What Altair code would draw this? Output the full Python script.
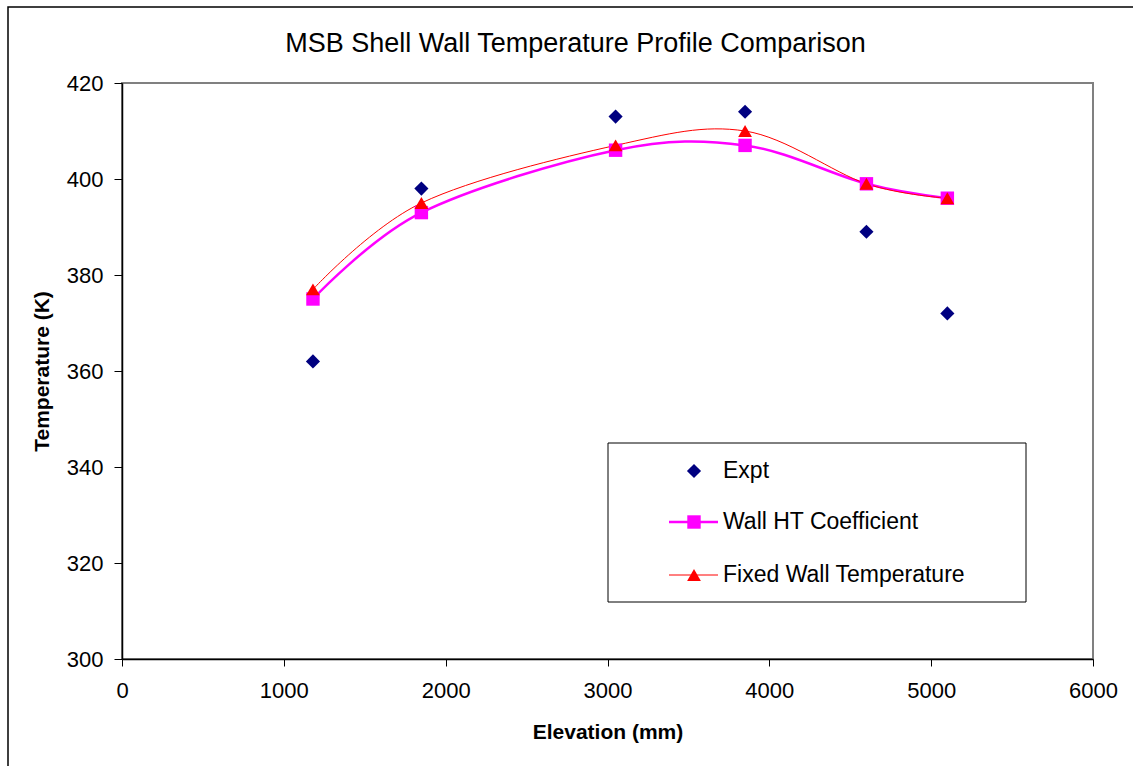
import altair as alt
import pandas as pd

# ---- data ----
elevation = [1180, 1850, 3050, 3850, 4600, 5100]
expt = [362, 398, 413, 414, 389, 372]
wall_ht = [375, 393, 406, 407, 399, 396]
fixed_wall = [377, 395, 407, 410, 399, 396]

x_ticks = [0, 1000, 2000, 3000, 4000, 5000, 6000]
y_ticks = [300, 320, 340, 360, 380, 400, 420]

legend_labels = ["Expt", "Wall HT Coefficient", "Fixed Wall Temperature"]

FONT = "Liberation Sans"
NAVY = "#000080"
MAGENTA = "#FF00FF"
RED = "#FF0000"

W, H = 971, 576
PAD = {"left": 122, "top": 83, "right": 40, "bottom": 107}

df_expt = pd.DataFrame({"x": elevation, "y": expt})
df_wall = pd.DataFrame({"x": elevation, "y": wall_ht})
df_fixed = pd.DataFrame({"x": elevation, "y": fixed_wall})

xscale = alt.Scale(domain=[0, 6000], nice=False, zero=False)
yscale = alt.Scale(domain=[300, 420], nice=False, zero=False)

x_axis = alt.Axis(
    values=x_ticks, format="d", title="Elevation (mm)", grid=False, tickSize=7,
    labelPadding=14, labelFontSize=22, labelFont=FONT, labelColor="black",
    labelFlush=False, labelOverlap=False,
    titleFont=FONT, titleFontSize=21, titleFontWeight="bold", titleColor="black",
    titlePadding=20, domainColor="black", tickColor="black", domainWidth=1.5,
)
y_axis = alt.Axis(
    values=y_ticks, format="d", title="Temperature (K)", grid=False, tickSize=8,
    labelPadding=11, labelFontSize=22, labelFont=FONT, labelColor="black",
    labelOverlap=False,
    titleFont=FONT, titleFontSize=21, titleFontWeight="bold", titleColor="black",
    titlePadding=14, domainColor="black", tickColor="black", domainWidth=1.5,
)

X = alt.X("x:Q", scale=xscale, axis=x_axis)
Y = alt.Y("y:Q", scale=yscale, axis=y_axis)

one = pd.DataFrame({"a": [0]})

# outer chart border (left & top edges visible in reference)
border = alt.Chart(one).mark_rect(fill=None, stroke="black", strokeWidth=1.5).encode(
    x=alt.value(-114), x2=alt.value(1030), y=alt.value(-76), y2=alt.value(700)
)

wall_line = alt.Chart(df_wall).mark_line(
    color=MAGENTA, strokeWidth=2.5, interpolate="cardinal"
).encode(x=X, y=Y)
wall_pts = alt.Chart(df_wall).mark_point(
    shape="square", filled=True, color=MAGENTA, size=180, opacity=1
).encode(x=X, y=Y)

fixed_line = alt.Chart(df_fixed).mark_line(
    color=RED, strokeWidth=1, interpolate="cardinal"
).encode(x=X, y=Y)
fixed_pts = alt.Chart(df_fixed).mark_point(
    shape="triangle-up", filled=True, color=RED, size=190, opacity=1
).encode(x=X, y=Y)

expt_pts = alt.Chart(df_expt).mark_point(
    shape="diamond", filled=True, color=NAVY, size=200, opacity=1
).encode(x=X, y=Y)

# ---- manual legend box (pixel positions relative to plot area) ----
LX0, LX1, LY0, LY1 = 486, 904, 360, 519
leg_box = alt.Chart(one).mark_rect(fill="white", stroke="black", strokeWidth=1).encode(
    x=alt.value(LX0), x2=alt.value(LX1), y=alt.value(LY0), y2=alt.value(LY1)
)
row_y = [388, 439, 492]
sym_x = 572
text_x = 601

leg_layers = [leg_box]
leg_layers.append(alt.Chart(one).mark_point(
    shape="diamond", filled=True, color=NAVY, size=200, opacity=1
).encode(x=alt.value(sym_x), y=alt.value(row_y[0])))
leg_layers.append(alt.Chart(one).mark_rule(color=MAGENTA, strokeWidth=2.5).encode(
    x=alt.value(547), x2=alt.value(596), y=alt.value(row_y[1])))
leg_layers.append(alt.Chart(one).mark_point(
    shape="square", filled=True, color=MAGENTA, size=180, opacity=1
).encode(x=alt.value(sym_x), y=alt.value(row_y[1])))
leg_layers.append(alt.Chart(one).mark_rule(color=RED, strokeWidth=1).encode(
    x=alt.value(547), x2=alt.value(596), y=alt.value(row_y[2])))
leg_layers.append(alt.Chart(one).mark_point(
    shape="triangle-up", filled=True, color=RED, size=190, opacity=1
).encode(x=alt.value(sym_x), y=alt.value(row_y[2])))
for lbl, ry in zip(legend_labels, row_y):
    leg_layers.append(alt.Chart(one).mark_text(
        text=lbl, align="left", baseline="middle", font=FONT, fontSize=23, color="black"
    ).encode(x=alt.value(text_x), y=alt.value(ry)))

chart = alt.layer(
    border, wall_line, fixed_line, wall_pts, fixed_pts, expt_pts, *leg_layers
).properties(
    width=W, height=H,
    title=alt.TitleParams(
        "MSB Shell Wall Temperature Profile Comparison",
        font=FONT, fontSize=27, fontWeight="normal", color="black",
        anchor="middle", frame="group", dx=-32, offset=-73, baseline="alphabetic",
    ),
    autosize=alt.AutoSizeParams(type="none"),
    padding=PAD,
    background="white",
).configure_view(
    stroke="#808080", strokeWidth=2
)

chart.save("out.html", embed_options={"renderer": "svg", "actions": False})
